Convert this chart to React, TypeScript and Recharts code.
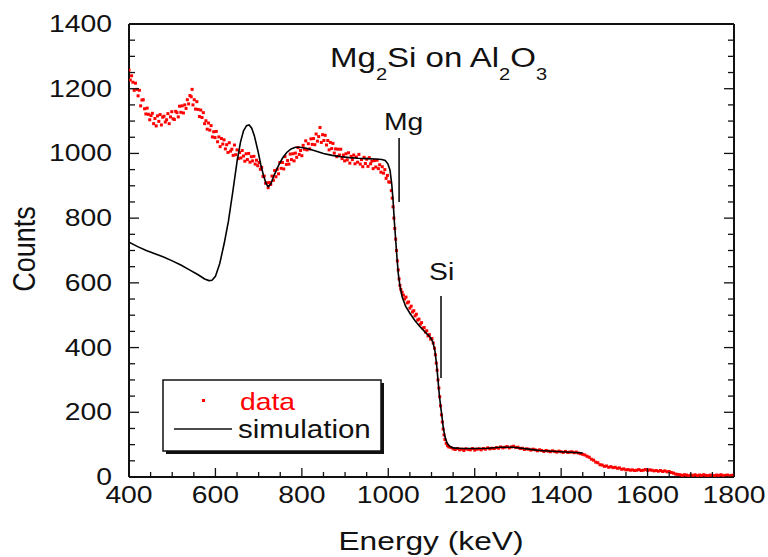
import { ScatterChart, Scatter, XAxis, YAxis, ReferenceLine } from 'recharts'

// measured RBS spectrum, [energy keV, counts]
const measured: [number, number][] = [
  [400, 1258], [403, 1227], [406, 1240], [409, 1220], [412, 1195], [415, 1217], [418, 1198], [421, 1178],
  [424, 1195], [427, 1147], [430, 1165], [433, 1166], [436, 1138], [439, 1122], [442, 1140], [445, 1121],
  [448, 1104], [451, 1117], [454, 1124], [457, 1092], [460, 1108], [463, 1085], [466, 1116], [469, 1099],
  [472, 1120], [475, 1088], [478, 1112], [481, 1115], [484, 1097], [487, 1104], [490, 1123], [493, 1092],
  [496, 1113], [499, 1129], [502, 1107], [505, 1105], [508, 1130], [511, 1126], [514, 1113], [517, 1146],
  [520, 1127], [523, 1147], [526, 1125], [529, 1150], [532, 1139], [535, 1166], [538, 1153], [541, 1179],
  [544, 1175], [546, 1198], [548, 1150], [551, 1166], [554, 1137], [557, 1160], [560, 1136], [563, 1114],
  [566, 1134], [569, 1111], [572, 1126], [575, 1092], [578, 1101], [581, 1075], [584, 1094], [587, 1072],
  [590, 1086], [593, 1051], [596, 1067], [599, 1049], [602, 1068], [605, 1036], [608, 1051], [611, 1021],
  [614, 1046], [617, 1029], [620, 1042], [623, 1014], [626, 1027], [629, 1003], [632, 1033], [635, 1007],
  [638, 1013], [641, 994], [644, 1026], [647, 996], [650, 1011], [653, 984], [656, 1003], [659, 986],
  [662, 1009], [665, 992], [668, 976], [671, 999], [674, 981], [677, 1000], [680, 973], [683, 990],
  [686, 977], [689, 991], [692, 967], [695, 979], [698, 962], [701, 972], [704, 951], [707, 957],
  [710, 929], [713, 930], [716, 908], [719, 909], [722, 894], [725, 910], [728, 904], [731, 930],
  [734, 917], [737, 947], [740, 928], [743, 951], [746, 937], [749, 972], [752, 954], [755, 972],
  [758, 952], [761, 990], [764, 966], [767, 978], [770, 967], [773, 998], [776, 981], [779, 999],
  [782, 977], [785, 1001], [788, 988], [791, 1018], [794, 997], [797, 1009], [800, 993], [803, 1025],
  [806, 1013], [809, 1039], [812, 1011], [815, 1030], [818, 1014], [821, 1045], [824, 1028], [827, 1046],
  [830, 1027], [833, 1060], [836, 1038], [839, 1052], [842, 1080], [845, 1034], [848, 1058], [851, 1040],
  [854, 1056], [857, 1026], [860, 1040], [863, 1011], [866, 1034], [869, 1015], [872, 1031], [875, 1001],
  [878, 1014], [881, 990], [884, 1013], [887, 995], [890, 1013], [893, 984], [896, 995], [899, 977],
  [902, 999], [905, 980], [908, 1002], [911, 970], [914, 991], [917, 981], [920, 995], [923, 968],
  [926, 989], [929, 973], [932, 997], [935, 967], [938, 981], [941, 959], [944, 988], [947, 969],
  [950, 982], [953, 960], [956, 987], [959, 968], [962, 976], [965, 953], [968, 978], [971, 958],
  [974, 979], [977, 953], [980, 965], [983, 942], [986, 959], [989, 939], [992, 950], [995, 923],
  [998, 932], [1001, 912], [1004, 911], [1007, 885], [1009, 862], [1011, 835], [1013, 800], [1015, 768],
  [1017, 735], [1019, 700], [1021, 668], [1023, 640], [1025, 612], [1027, 592], [1029, 580], [1032, 571],
  [1035, 562], [1038, 550], [1041, 556], [1044, 538], [1047, 541], [1050, 522], [1053, 528], [1056, 510],
  [1059, 514], [1062, 498], [1065, 503], [1068, 485], [1071, 488], [1074, 472], [1077, 477], [1080, 460],
  [1083, 462], [1086, 448], [1089, 452], [1092, 436], [1095, 440], [1098, 426], [1101, 428], [1104, 414],
  [1107, 398], [1109, 378], [1111, 352], [1113, 330], [1115, 300], [1117, 275], [1119, 248], [1121, 220],
  [1123, 192], [1125, 170], [1127, 148], [1129, 130], [1131, 116], [1134, 104], [1137, 97], [1140, 93],
  [1145, 91], [1150, 87], [1155, 85], [1160, 88], [1165, 84], [1170, 86], [1175, 82], [1180, 87],
  [1185, 85], [1190, 84], [1195, 88], [1200, 83], [1205, 86], [1210, 87], [1215, 84], [1220, 88],
  [1225, 86], [1230, 90], [1235, 87], [1240, 89], [1245, 88], [1250, 91], [1255, 89], [1260, 93],
  [1265, 90], [1270, 92], [1275, 94], [1280, 90], [1285, 93], [1290, 95], [1295, 91], [1300, 92],
  [1305, 88], [1310, 89], [1315, 85], [1320, 87], [1325, 86], [1330, 83], [1335, 86], [1340, 84],
  [1345, 81], [1350, 84], [1355, 82], [1360, 79], [1365, 82], [1370, 80], [1375, 78], [1380, 81],
  [1385, 79], [1390, 77], [1395, 80], [1400, 78], [1405, 76], [1410, 79], [1415, 76], [1420, 77],
  [1425, 78], [1430, 75], [1435, 77], [1440, 74], [1445, 72], [1450, 70], [1455, 68], [1460, 64],
  [1465, 61], [1470, 55], [1475, 52], [1480, 46], [1485, 44], [1490, 38], [1495, 37], [1500, 33],
  [1505, 34], [1510, 30], [1515, 32], [1520, 29], [1525, 30], [1530, 27], [1535, 28], [1540, 24],
  [1545, 25], [1550, 22], [1555, 23], [1560, 21], [1565, 22], [1570, 20], [1575, 21], [1580, 23],
  [1585, 20], [1590, 21], [1595, 23], [1600, 20], [1605, 22], [1610, 21], [1615, 19], [1620, 20],
  [1625, 18], [1630, 20], [1635, 17], [1640, 19], [1645, 16], [1650, 17], [1655, 14], [1660, 12],
  [1665, 9], [1670, 8], [1675, 7], [1680, 5], [1685, 7], [1690, 6], [1695, 4], [1700, 6],
  [1705, 5], [1710, 7], [1715, 4], [1720, 6], [1725, 5], [1730, 7], [1735, 5], [1740, 4],
  [1745, 6], [1750, 5], [1755, 4], [1760, 6], [1765, 5], [1770, 7], [1775, 4], [1780, 5],
  [1785, 6], [1790, 4], [1795, 5], [1800, 6],
]

// simulated spectrum
const simulation: [number, number][] = [
  [400, 726], [420, 712], [440, 700], [460, 690], [480, 680], [500, 668], [520, 655], [540, 640],
  [560, 625], [575, 612], [585, 607], [592, 608], [600, 620], [610, 660], [620, 720], [630, 790],
  [640, 880], [650, 975], [658, 1035], [665, 1070], [672, 1086], [678, 1088], [684, 1078], [690, 1055],
  [698, 1010], [705, 965], [712, 928], [718, 905], [722, 897], [728, 905], [735, 930], [745, 960],
  [755, 985], [765, 1003], [775, 1014], [785, 1019], [795, 1019], [810, 1016], [830, 1008], [850, 1000],
  [870, 994], [890, 990], [910, 987], [930, 985], [950, 984], [970, 983], [985, 981], [993, 978],
  [999, 968], [1004, 948], [1008, 905], [1011, 856], [1014, 790], [1017, 735], [1020, 680], [1023, 630],
  [1027, 590], [1032, 557], [1040, 528], [1050, 506], [1062, 483], [1073, 465], [1085, 448], [1097, 432],
  [1103, 418], [1108, 390], [1112, 345], [1115, 300], [1118, 255], [1121, 220], [1124, 190], [1127, 155],
  [1131, 125], [1136, 105], [1142, 95], [1150, 90], [1170, 88], [1200, 88], [1230, 89], [1260, 92],
  [1290, 92], [1320, 87], [1350, 82], [1400, 78], [1450, 74],
]

const xTicks = [
  400, 450, 500, 550, 600, 650, 700, 750, 800, 850, 900, 950, 1000, 1050, 1100,
  1150, 1200, 1250, 1300, 1350, 1400, 1450, 1500, 1550, 1600, 1650, 1700, 1750, 1800,
]
const yTicks = [
  0, 50, 100, 150, 200, 250, 300, 350, 400, 450, 500, 550, 600, 650, 700,
  750, 800, 850, 900, 950, 1000, 1050, 1100, 1150, 1200, 1250, 1300, 1350, 1400,
]

// annotation markers: label, energy, counts top, counts bottom
const markers: [string, number, number, number][] = [
  ['Mg', 1025, 1048, 850],
  ['Si', 1122, 559, 306],
]

const FONT = '"Liberation Sans", Arial, sans-serif'
const SX = 1.18
const MAJOR = 9
const MINOR = 5

const points = measured.map(([e, c]) => ({ e, c }))
const simPoints = simulation.map(([e, c]) => ({ e, c }))

const isMajor = (v: number) => v % 200 === 0

function BottomTick({ x, y, payload }: any) {
  const len = isMajor(payload.value) ? MAJOR : MINOR
  return (
    <g>
      <line x1={x} y1={y} x2={x} y2={y - len} stroke="#111" strokeWidth={1.3} />
      {isMajor(payload.value) && (
        <text transform={`translate(${x},${y + 26}) scale(${SX},1)`} textAnchor="middle" fontSize={24} fontFamily={FONT} fill="#111">
          {payload.value}
        </text>
      )}
    </g>
  )
}

function TopTick({ x, y, payload }: any) {
  const len = isMajor(payload.value) ? MAJOR : MINOR
  return <line x1={x} y1={y} x2={x} y2={y + len} stroke="#111" strokeWidth={1.3} />
}

function LeftTick({ x, y, payload }: any) {
  const len = isMajor(payload.value) ? MAJOR + 1 : MINOR + 1
  return (
    <g>
      <line x1={x} y1={y} x2={x + len} y2={y} stroke="#111" strokeWidth={1.3} />
      {isMajor(payload.value) && (
        <text transform={`translate(${x - 17},${y + 8}) scale(${SX},1)`} textAnchor="end" fontSize={24} fontFamily={FONT} fill="#111">
          {payload.value}
        </text>
      )}
    </g>
  )
}

function RightTick({ x, y, payload }: any) {
  const len = isMajor(payload.value) ? MAJOR + 1 : MINOR + 1
  return <line x1={x} y1={y} x2={x - len} y2={y} stroke="#111" strokeWidth={1.3} />
}

const Dot = (props: any) => (
  <rect x={props.cx - 1.5} y={props.cy - 1.5} width={3} height={3} fill="#ff0000" />
)

const axisLine = { stroke: '#111', strokeWidth: 2 }

export default function App() {
  return (
    <div style={{ position: 'relative', width: 768, height: 557, background: '#fff' }}>
      <style>{'body{margin:0}'}</style>
      <ScatterChart width={768} height={557} margin={{ top: 23, right: 33, bottom: 20, left: 49 }}>
        <XAxis
          xAxisId="b" dataKey="e" type="number" domain={[400, 1800]} ticks={xTicks} interval={0}
          allowDataOverflow height={60} tickSize={0} tickMargin={0} tickLine={false} axisLine={axisLine} tick={<BottomTick />}
        />
        <XAxis
          xAxisId="t" orientation="top" type="number" domain={[400, 1800]} ticks={xTicks} interval={0}
          allowDataOverflow height={1} tickSize={0} tickMargin={0} tickLine={false} axisLine={axisLine} tick={<TopTick />}
        />
        <YAxis
          yAxisId="l" dataKey="c" type="number" domain={[0, 1400]} ticks={yTicks} interval={0}
          allowDataOverflow width={80} tickSize={0} tickMargin={0} tickLine={false} axisLine={axisLine} tick={<LeftTick />}
        />
        <YAxis
          yAxisId="r" orientation="right" type="number" domain={[0, 1400]} ticks={yTicks} interval={0}
          allowDataOverflow width={1} tickSize={0} tickMargin={0} tickLine={false} axisLine={axisLine} tick={<RightTick />}
        />
        <Scatter xAxisId="b" yAxisId="l" data={points} shape={Dot} isAnimationActive={false} />
        <Scatter
          xAxisId="b" yAxisId="l" data={simPoints} line={{ stroke: '#000', strokeWidth: 1.6 }}
          shape={() => <g />} isAnimationActive={false}
        />
        {markers.map(([name, e, top, bottom]) => (
          <ReferenceLine
            key={name} xAxisId="b" yAxisId="l"
            segment={[{ x: e, y: top }, { x: e, y: bottom }]}
            stroke="#000" strokeWidth={1.5}
          />
        ))}
      </ScatterChart>

      <svg width={768} height={557} style={{ position: 'absolute', left: 0, top: 0, pointerEvents: 'none' }} fontFamily={FONT}>
        <text transform={`translate(330,67) scale(${SX},1)`} fontSize={28} fill="#111">
          Mg<tspan dy={13} fontSize={17}>2</tspan>
          <tspan dy={-13}>Si on Al</tspan>
          <tspan dy={13} fontSize={17}>2</tspan>
          <tspan dy={-13}>O</tspan>
          <tspan dy={13} fontSize={17}>3</tspan>
        </text>
        <text transform={`translate(384,130) scale(${SX},1)`} fontSize={24} fill="#111">Mg</text>
        <text transform={`translate(429,280) scale(${SX},1)`} fontSize={24} fill="#111">Si</text>

        <text transform={`translate(35,249) scale(${SX},1) rotate(-90)`} textAnchor="middle" fontSize={27} fill="#111">Counts</text>
        <text transform="translate(431,550) scale(1.22,1)" textAnchor="middle" fontSize={26} fill="#111">Energy (keV)</text>

        <rect x={166} y={383} width={218} height={71} fill="#111" />
        <rect x={163} y={380} width={218} height={71} fill="#fff" stroke="#111" strokeWidth={1.5} />
        <rect x={202} y={399} width={3} height={3} fill="#ff0000" />
        <text transform={`translate(240,410) scale(${SX},1)`} fontSize={24} fill="#ff0000">data</text>
        <line x1={174} y1={429} x2={232} y2={429} stroke="#111" strokeWidth={1.5} />
        <text transform={`translate(238,438) scale(${SX},1)`} fontSize={25} fill="#111">simulation</text>
      </svg>
    </div>
  )
}
